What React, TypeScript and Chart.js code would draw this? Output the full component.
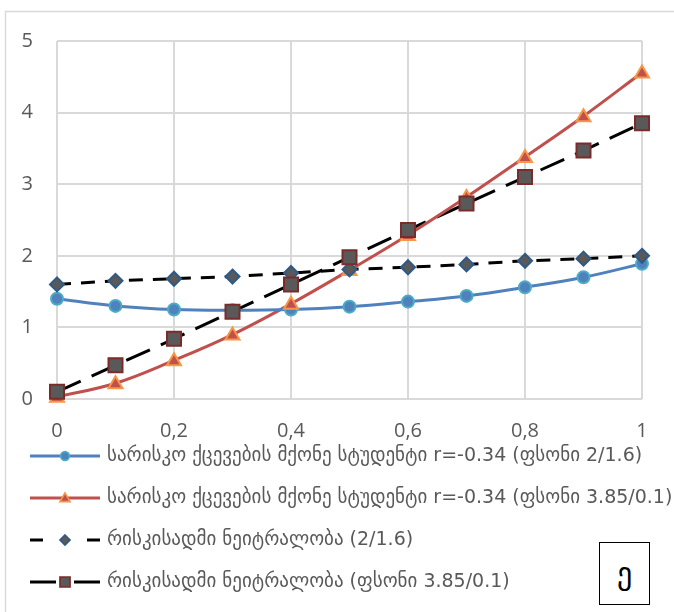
import React, { useEffect, useRef } from "react";
import { Chart, registerables } from "chart.js";

Chart.register(...registerables);

const xValues = [0, 0.1, 0.2, 0.3, 0.4, 0.5, 0.6, 0.7, 0.8, 0.9, 1];
const riskyStudent2: number[] = [1.4, 1.3, 1.25, 1.24, 1.25, 1.29, 1.36, 1.44, 1.56, 1.7, 1.89];
const riskyStudent385: number[] = [0.03, 0.22, 0.54, 0.9, 1.33, 1.8, 2.29, 2.82, 3.38, 3.95, 4.56];
const neutral2: number[] = [1.6, 1.65, 1.68, 1.71, 1.76, 1.81, 1.84, 1.88, 1.93, 1.96, 2.0];
const neutral385: number[] = [0.1, 0.47, 0.84, 1.22, 1.6, 1.98, 2.36, 2.73, 3.1, 3.47, 3.85];

const seriesLabels = [
  "სარისკო ქცევების მქონე სტუდენტი r=-0.34 (ფსონი 2/1.6)",
  "სარისკო ქცევების მქონე სტუდენტი r=-0.34 (ფსონი 3.85/0.1)",
  "რისკისადმი ნეიტრალობა (2/1.6)",
  "რისკისადმი ნეიტრალობა (ფსონი 3.85/0.1)",
];
const yTicks = [0, 1, 2, 3, 4, 5];
const xTickStep = 0.2;
const panelLetter = "ე";

const FONT = "'DejaVu Sans', 'Noto Sans', sans-serif";
const TICK_FONT = "'Open Sans', 'Noto Sans', sans-serif";
const TEXT = "#595959";
const GRID = "#D9D9D9";

type Marker = "circle" | "triangle" | "rectRot" | "rect";

function drawMarker(ctx: CanvasRenderingContext2D, kind: Marker, x: number, y: number, fill: string, stroke: string, k = 1) {
  ctx.save();
  ctx.setLineDash([]);
  ctx.fillStyle = fill;
  ctx.strokeStyle = stroke;
  ctx.lineWidth = 2 * Math.min(1, k + 0.1);
  ctx.beginPath();
  if (kind === "circle") {
    ctx.arc(x, y, 6 * k, 0, Math.PI * 2);
  } else if (kind === "triangle") {
    ctx.moveTo(x, y - 7 * k);
    ctx.lineTo(x + 7 * k, y + 5 * k);
    ctx.lineTo(x - 7 * k, y + 5 * k);
    ctx.closePath();
  } else if (kind === "rectRot") {
    ctx.moveTo(x, y - 7 * k);
    ctx.lineTo(x + 7 * k, y);
    ctx.lineTo(x, y + 7 * k);
    ctx.lineTo(x - 7 * k, y);
    ctx.closePath();
  } else {
    ctx.rect(x - 7 * k, y - 7 * k, 14 * k, 14 * k);
  }
  ctx.fill();
  ctx.stroke();
  ctx.restore();
}

const styles = [
  { color: "#4F81BD", fill: "#4F81BD", stroke: "#4BACC6", marker: "circle" as Marker, dash: [] as number[], tension: 0.4, legendDash: [] as number[] },
  { color: "#C0504D", fill: "#C0504D", stroke: "#F79646", marker: "triangle" as Marker, dash: [] as number[], tension: 0.4, legendDash: [] as number[] },
  { color: "#000000", fill: "#595959", stroke: "#2E5A8A", marker: "rectRot" as Marker, dash: [14, 10], tension: 0, legendDash: [13, 44] },
  { color: "#000000", fill: "#595959", stroke: "#7B2C2A", marker: "rect" as Marker, dash: [26, 12], tension: 0, legendDash: [26, 18] },
];

export default function App() {
  const ref = useRef<HTMLCanvasElement | null>(null);

  useEffect(() => {
    const canvas = ref.current;
    if (!canvas) return;
    const all = [riskyStudent2, riskyStudent385, neutral2, neutral385];

    const markerPlugin = {
      id: "customMarkers",
      beforeDraw(chart: any) {
        const ctx = chart.ctx as CanvasRenderingContext2D;
        ctx.save();
        ctx.fillStyle = "#ffffff";
        ctx.fillRect(0, 0, chart.width, chart.height);
        ctx.strokeStyle = GRID;
        ctx.lineWidth = 1.5;
        ctx.strokeRect(5.5, 11.5, 800, 800);
        ctx.restore();
      },
      afterDatasetsDraw(chart: any) {
        const ctx = chart.ctx as CanvasRenderingContext2D;
        chart.data.datasets.forEach((ds: any, i: number) => {
          const meta = chart.getDatasetMeta(i);
          const st = styles[i];
          meta.data.forEach((pt: any) => {
            drawMarker(ctx, st.marker, pt.x, pt.y, st.fill, st.stroke);
          });
        });
      },
      afterDraw(chart: any) {
        const ctx = chart.ctx as CanvasRenderingContext2D;
        const rowY = [456, 498, 540, 582];
        chart.data.datasets.forEach((ds: any, i: number) => {
          const st = styles[i];
          const y = rowY[i];
          ctx.save();
          ctx.strokeStyle = st.color;
          ctx.lineWidth = 3;
          ctx.setLineDash(st.legendDash);
          ctx.beginPath();
          ctx.moveTo(30, y);
          ctx.lineTo(100, y);
          ctx.stroke();
          ctx.restore();
          drawMarker(ctx, st.marker, 65, y, st.fill, st.stroke, 0.72);
          ctx.save();
          ctx.fillStyle = TEXT;
          ctx.font = `19px ${FONT}`;
          ctx.textBaseline = "middle";
          ctx.textAlign = "left";
          ctx.fillText(ds.label, 107, y);
          ctx.restore();
        });
      },
    };

    const chart = new Chart(canvas, {
      type: "line",
      data: {
        datasets: all.map((arr, i) => ({
          label: seriesLabels[i],
          data: arr.map((v, j) => ({ x: xValues[j], y: v })),
          borderColor: styles[i].color,
          borderWidth: 3,
          borderDash: styles[i].dash,
          tension: styles[i].tension,
          pointRadius: 0,
          pointHoverRadius: 0,
          fill: false,
        })),
      },
      options: {
        responsive: false,
        animation: false,
        layout: { padding: { left: 0, top: 41, right: 32, bottom: 0 } },
        plugins: { legend: { display: false }, tooltip: { enabled: false } },
        scales: {
          x: {
            type: "linear",
            min: 0,
            max: 1,
            afterFit: (s: any) => {
              s.height = 213;
            },
            ticks: {
              stepSize: xTickStep,
              color: TEXT,
              padding: 20,
              font: { family: TICK_FONT, size: 20 },
              callback: (v: any) => String(Math.round(Number(v) * 10) / 10).replace(".", ","),
            },
            grid: { color: GRID, lineWidth: 2, drawTicks: false },
            border: { display: false },
          },
          y: {
            min: 0,
            max: 5,
            afterFit: (s: any) => {
              s.width = 57;
            },
            afterBuildTicks: (s: any) => {
              s.ticks = yTicks.map((v) => ({ value: v }));
            },
            ticks: {
              color: TEXT,
              padding: 24,
              font: { family: TICK_FONT, size: 20 },
            },
            grid: { color: GRID, lineWidth: 2, drawTicks: false },
            border: { display: false },
          },
        },
      },
      plugins: [markerPlugin],
    });
    return () => chart.destroy();
  }, []);

  return (
    <div style={{ position: "fixed", left: 0, top: 0, width: 674, height: 612, background: "#fff" }}>
      <canvas ref={ref} width={674} height={612} style={{ display: "block" }} />
      <div
        style={{
          position: "absolute",
          left: 599,
          top: 542,
          width: 49,
          height: 61,
          border: "1px solid #000",
          display: "flex",
          alignItems: "center",
          justifyContent: "center",
          fontFamily: FONT,
          fontSize: 30,
          color: "#000",
          background: "#fff",
        }}
      >
        {panelLetter}
      </div>
    </div>
  );
}
